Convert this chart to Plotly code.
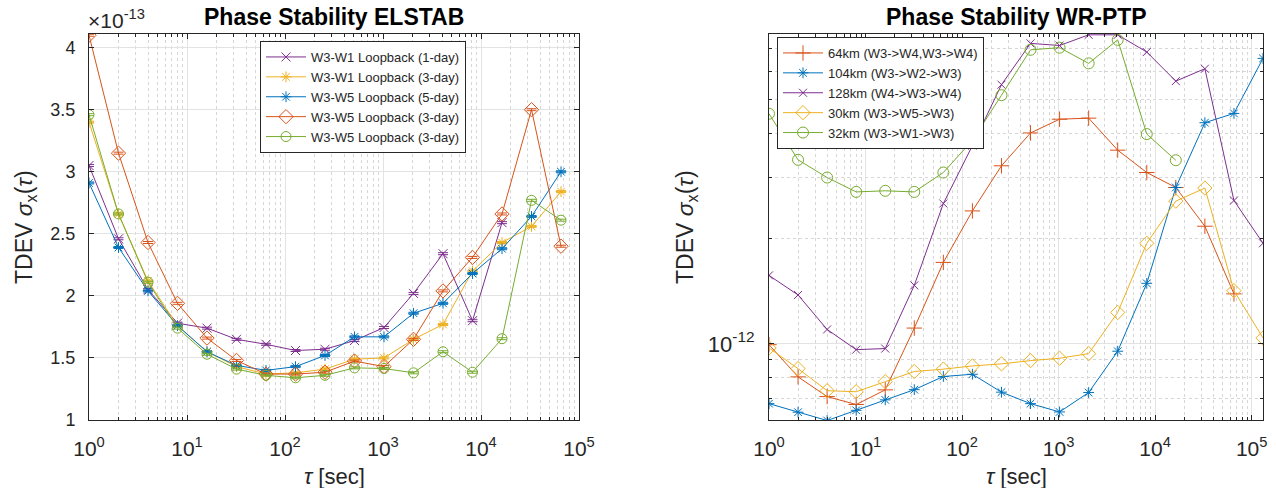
import plotly.graph_objects as go

W, H = 1276, 488

# ---------------- data ----------------
tau_left = [2 ** k for k in range(17)]          # 1 .. 65536 s
tau_right = [2 ** k for k in range(18)]         # 1 .. 131072 s

# Left panel: TDEV in units of 1e-13 s
elstab_w3w1_1day = [3.05, 2.46, 2.05, 1.78, 1.74, 1.65, 1.61, 1.56, 1.57, 1.64, 1.745, 2.02, 2.34, 1.80, 2.59]
elstab_w3w1_3day = [3.40, 2.66, 2.12, 1.76, 1.55, 1.43, 1.37, 1.38, 1.41, 1.49, 1.50, 1.65, 1.77, 2.20, 2.43, 2.56, 2.84]
elstab_w3w5_5day = [2.91, 2.39, 2.04, 1.76, 1.55, 1.44, 1.40, 1.43, 1.52, 1.67, 1.67, 1.86, 1.94, 2.18, 2.38, 2.64, 3.00]
elstab_w3w5_3day_a = [4.10, 3.15, 2.43, 1.94, 1.66, 1.48, 1.37, 1.37, 1.385, 1.475, 1.43, 1.65, 2.04, 2.31, 2.66, 3.50, 2.40]
elstab_w3w5_3day_b = [3.46, 2.66, 2.11, 1.74, 1.53, 1.41, 1.36, 1.34, 1.36, 1.42, 1.415, 1.38, 1.55, 1.385, 1.655, 2.77, 2.61]
elstab_err = 0.008

# Right panel: TDEV in seconds
wr_64km = [0.995e-12, 0.805e-12, 0.707e-12, 0.671e-12, 0.739e-12, 1.11e-12, 1.71e-12, 2.40e-12, 3.23e-12,
           4.01e-12, 4.39e-12, 4.42e-12, 3.58e-12, 3.09e-12, 2.80e-12, 2.17e-12, 1.39e-12]
wr_104km = [0.675e-12, 0.638e-12, 0.604e-12, 0.646e-12, 0.692e-12, 0.740e-12, 0.807e-12, 0.819e-12, 0.728e-12,
            0.675e-12, 0.639e-12, 0.726e-12, 0.953e-12, 1.49e-12, 2.80e-12, 4.29e-12, 4.56e-12, 6.55e-12]
wr_128km = [1.57e-12, 1.38e-12, 1.10e-12, 0.963e-12, 0.97e-12, 1.47e-12, 2.52e-12, 3.69e-12, 5.51e-12,
            7.23e-12, 7.13e-12, 7.65e-12, 7.65e-12, 6.83e-12, 5.64e-12, 6.12e-12, 2.57e-12, 1.94e-12]
wr_30km = [0.974e-12, 0.85e-12, 0.735e-12, 0.73e-12, 0.78e-12, 0.834e-12, 0.847e-12, 0.865e-12, 0.877e-12,
           0.896e-12, 0.91e-12, 0.938e-12, 1.23e-12, 1.94e-12, 2.56e-12, 2.79e-12, 1.42e-12, 1.04e-12]
wr_32km = [4.55e-12, 3.36e-12, 2.99e-12, 2.72e-12, 2.74e-12, 2.72e-12, 3.09e-12, 3.82e-12, 5.14e-12,
           6.93e-12, 7.03e-12, 6.34e-12, 7.40e-12, 3.98e-12, 3.35e-12]

left_names = ["W3-W1 Loopback (1-day)", "W3-W1 Loopback (3-day)", "W3-W5 Loopback (5-day)",
              "W3-W5 Loopback (3-day)", "W3-W5 Loopback (3-day)"]
right_names = ["64km (W3->W4,W3->W4)", "104km (W3->W2->W3)", "128km (W4->W3->W4)",
               "30km (W3->W5->W3)", "32km (W3->W1->W3)"]

left_yticks = [1, 1.5, 2, 2.5, 3, 3.5, 4]
left_yticktext = ["1", "1.5", "2", "2.5", "3", "3.5", "4"]
x_decades = [1, 10, 100, 1000, 10000, 100000]
x_decade_text = ["10<sup>0</sup>", "10<sup>1</sup>", "10<sup>2</sup>", "10<sup>3</sup>", "10<sup>4</sup>", "10<sup>5</sup>"]

# ---------------- style ----------------
BLUE = "#0072BD"
ORANGE = "#D95319"
YELLOW = "#EDB120"
PURPLE = "#7E2F8E"
GREEN = "#77AC30"
AX = "#262626"
GRID = "#e3e3e3"
MGRID = "#d6d6d6"
FONT = "Liberation Sans"

x_minor = [m * d for d in [1, 10, 100, 1000, 10000, 100000] for m in range(2, 10)]
y_minor_right = [m * 1e-13 for m in range(6, 10)] + [m * 1e-12 for m in range(2, 8)]

fig = go.Figure()

left_series = [
    (elstab_w3w1_1day, PURPLE, "x-thin-open", 9),
    (elstab_w3w1_3day, YELLOW, "asterisk-open", 9),
    (elstab_w3w5_5day, BLUE, "asterisk-open", 9),
    (elstab_w3w5_3day_a, ORANGE, "diamond-open", 11),
    (elstab_w3w5_3day_b, GREEN, "circle-open", 10),
]
for (vals, col, sym, sz), name in zip(left_series, left_names):
    fig.add_trace(go.Scatter(
        x=tau_left[:len(vals)], y=vals, name=name, mode="lines+markers",
        line=dict(color=col, width=1),
        marker=dict(symbol=sym, size=sz, color=col, line=dict(color=col, width=1)),
        error_y=dict(type="constant", value=elstab_err, color=col, thickness=1, width=5),
        xaxis="x", yaxis="y", legend="legend"))

right_series = [
    (wr_64km, ORANGE, "cross-thin-open", 11),
    (wr_104km, BLUE, "asterisk-open", 9),
    (wr_128km, PURPLE, "x-thin-open", 8),
    (wr_30km, YELLOW, "diamond-open", 11),
    (wr_32km, GREEN, "circle-open", 11),
]
for (vals, col, sym, sz), name in zip(right_series, right_names):
    fig.add_trace(go.Scatter(
        x=tau_right[:len(vals)], y=vals, name=name, mode="lines+markers",
        line=dict(color=col, width=1),
        marker=dict(symbol=sym, size=sz, color=col, line=dict(color=col, width=1)),
        xaxis="x2", yaxis="y2", legend="legend2"))

# axes geometry (pixels)
Lx0, Lx1 = 89, 579
Rx0, Rx1 = 769, 1263
Ty, By = 34, 420
ydom = [1 - By / H, 1 - Ty / H]


def px(x):
    return x / W


def py(y):
    return 1 - y / H


ylabel = "TDEV <i>σ</i><sub>x</sub>(<i>τ</i>)"
xlabel = "<i>τ</i> [sec]"

common_x = dict(
    type="log", showline=True, linecolor=AX, linewidth=1, mirror="allticks",
    ticks="inside", ticklen=5, tickcolor=AX, tickvals=x_decades, ticktext=x_decade_text,
    tickfont=dict(family=FONT, size=21, color=AX), ticklabelstandoff=10,
    showgrid=True, gridcolor=GRID, gridwidth=1, zeroline=False,
    minor=dict(tickvals=x_minor, ticks="inside", ticklen=3, tickcolor=AX,
               showgrid=True, gridcolor=MGRID, griddash="dot", gridwidth=1),
    automargin=False,
)
common_y = dict(
    domain=ydom, showline=True, linecolor=AX, linewidth=1, mirror="allticks",
    ticks="inside", ticklen=5, tickcolor=AX, ticklabelstandoff=9,
    showgrid=True, gridcolor=GRID, zeroline=False, automargin=False,
)

annotations = [
    dict(text="<b>Phase Stability ELSTAB</b>", x=px((Lx0 + Lx1) / 2), y=py(17),
         font=dict(family=FONT, size=23, color="black")),
    dict(text="<b>Phase Stability WR-PTP</b>", x=px((Rx0 + Rx1) / 2), y=py(17),
         font=dict(family=FONT, size=23, color="black")),
    dict(text=xlabel, x=px((Lx0 + Lx1) / 2), y=py(476), font=dict(family=FONT, size=22, color=AX)),
    dict(text=xlabel, x=px((Rx0 + Rx1) / 2), y=py(476), font=dict(family=FONT, size=22, color=AX)),
    dict(text=ylabel, x=px(25), y=py((Ty + By) / 2), textangle=-90, font=dict(family=FONT, size=23, color=AX)),
    dict(text=ylabel, x=px(686), y=py((Ty + By) / 2), textangle=-90, font=dict(family=FONT, size=23, color=AX)),
]
for a in annotations:
    a.update(xref="paper", yref="paper", xanchor="center", yanchor="middle", showarrow=False)
annotations.append(dict(text="×10<sup>-13</sup>", xref="paper", yref="paper", x=px(86), y=py(19),
                        xanchor="left", yanchor="middle", showarrow=False,
                        font=dict(family=FONT, size=21, color=AX)))

fig.update_layout(
    width=W, height=H, margin=dict(l=0, r=0, t=0, b=0),
    paper_bgcolor="white", plot_bgcolor="white",
    font=dict(family=FONT, color=AX),
    showlegend=True,
    xaxis=dict(common_x, domain=[px(Lx0), px(Lx1)], range=[0, 5], anchor="y"),
    yaxis=dict(common_y, range=[1, 4.11], anchor="x",
               tickvals=left_yticks, ticktext=left_yticktext,
               tickfont=dict(family=FONT, size=18, color=AX)),
    xaxis2=dict(common_x, domain=[px(Rx0), px(Rx1)], range=[0, 5.1175], anchor="y2"),
    yaxis2=dict(common_y, type="log", range=[-12.2175, -11.114], anchor="x2",
                tickvals=[1e-12], ticktext=["10<sup>-12</sup>"],
                tickfont=dict(family=FONT, size=22, color=AX),
                minor=dict(tickvals=y_minor_right, ticks="inside", ticklen=3, tickcolor=AX,
                           showgrid=True, gridcolor=MGRID, griddash="dot", gridwidth=1)),
    legend=dict(x=px(260), y=py(41), xanchor="left", yanchor="top",
                bgcolor="white", bordercolor=AX, borderwidth=1,
                font=dict(family=FONT, size=13, color=AX), tracegroupgap=0, itemwidth=40),
    legend2=dict(x=px(777), y=py(37), xanchor="left", yanchor="top",
                 bgcolor="white", bordercolor=AX, borderwidth=1,
                 font=dict(family=FONT, size=13, color=AX), tracegroupgap=0, itemwidth=40),
    annotations=annotations,
)

fig.write_html("out.html", config={"displayModeBar": False},
               post_script="document.body.style.margin='0';document.body.style.overflow='hidden';")
